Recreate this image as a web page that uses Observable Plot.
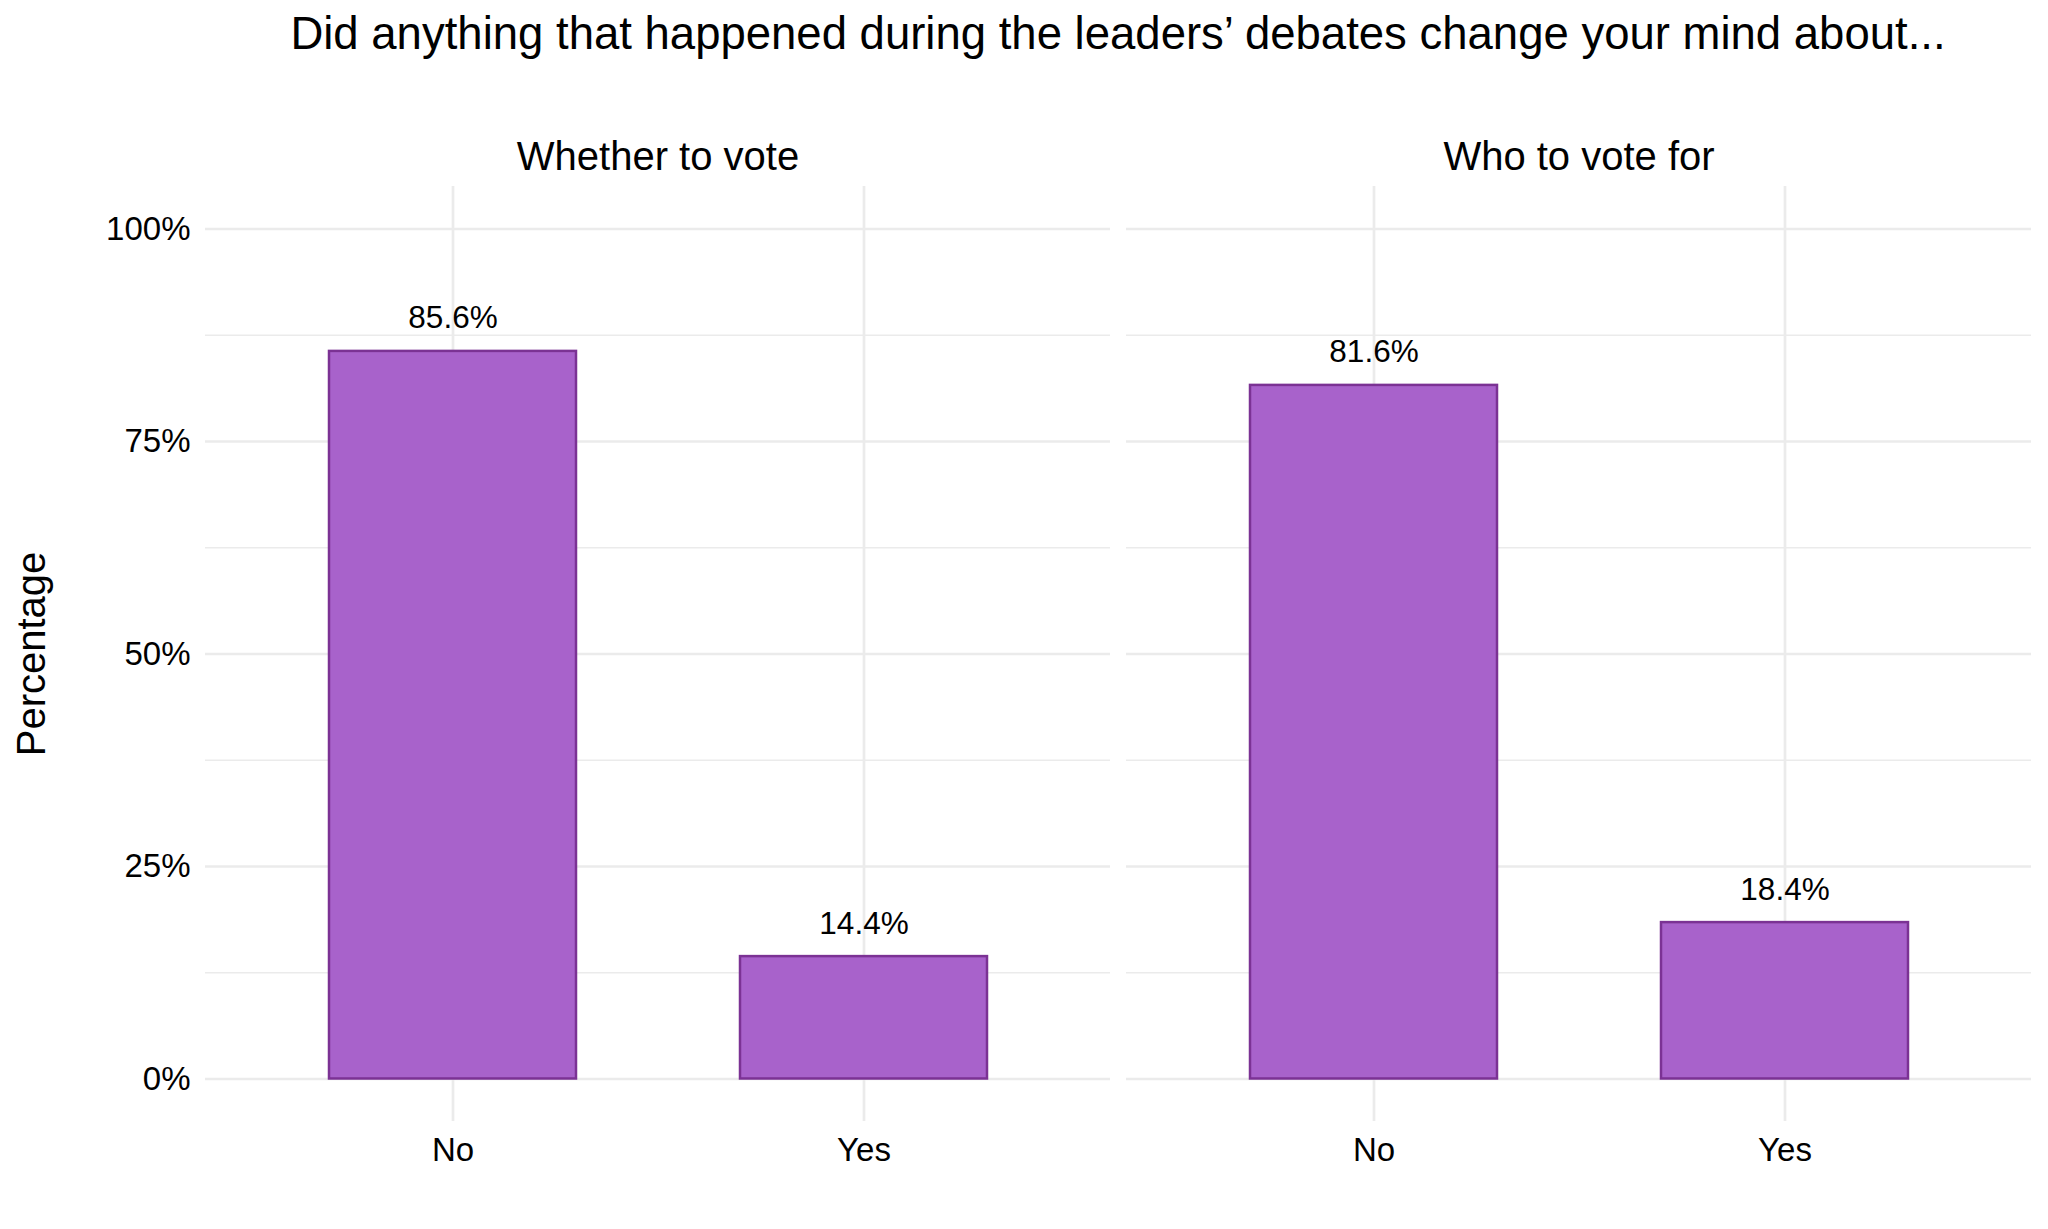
<!DOCTYPE html>
<html><head><meta charset="utf-8">
<script src="https://cdn.jsdelivr.net/npm/d3@7"></script>
<script src="https://cdn.jsdelivr.net/npm/@observablehq/plot@0.6"></script>
<style>
html,body{margin:0;padding:0;background:#fff;}
#title{width:2048px;height:80px;box-sizing:border-box;padding-top:11px;font-family:"Liberation Sans",Arial,Helvetica,sans-serif;font-size:45.5px;line-height:45.5px;color:#000;}
#title span{display:block;margin-left:205px;width:1826px;text-align:center;white-space:nowrap;}
#chart svg{display:block;}
</style></head><body>
<div id="title"><span id="titletext"></span></div>
<div id="chart"></div>
<script>
const titleText = "Did anything that happened during the leaders’ debates change your mind about...";
const panels = ["Whether to vote", "Who to vote for"];
const answers = ["No", "Yes"];
const whetherValues = [85.6, 14.4];
const whoValues = [81.6, 18.4];
const majorTicks = [0, 25, 50, 75, 100];
const minorTicks = [12.5, 37.5, 62.5, 87.5];
const yLabel = "Percentage";

document.getElementById("titletext").textContent = titleText;

const data = [
  ...answers.map((a, i) => ({panel: panels[0], answer: a, value: whetherValues[i]})),
  ...answers.map((a, i) => ({panel: panels[1], answer: a, value: whoValues[i]}))
];

const font = '"Liberation Sans", Arial, Helvetica, sans-serif';

const chart = Plot.plot({
  width: 2048,
  height: 1149,
  marginTop: 106,
  marginBottom: 108,
  marginLeft: 205,
  marginRight: 17,
  style: {fontFamily: font, fontSize: "33px", color: "#000", background: "#fff", overflow: "visible"},
  fx: {domain: panels, paddingInner: 16 / 921, paddingOuter: 0, axis: null, label: null},
  x: {domain: answers, paddingInner: 0.4, paddingOuter: 0.3, axis: null, label: null},
  y: {domain: [-5, 105], axis: null, label: null},
  marks: [
    Plot.ruleY(minorTicks, {stroke: "#ebebeb", strokeWidth: 1.4}),
    Plot.ruleY(majorTicks, {stroke: "#ebebeb", strokeWidth: 2.7}),
    Plot.ruleX(answers, {x: d => d, stroke: "#ebebeb", strokeWidth: 2.7}),
    Plot.barY(data, {fx: "panel", x: "answer", y: "value", fill: "#a862cb", stroke: "#7b3294", strokeWidth: 2.5}),
    Plot.text(data, {fx: "panel", x: "answer", y: "value", text: d => d.value.toFixed(1) + "%", lineAnchor: "bottom", dy: -23, fontSize: 31.5, fill: "#000"}),
    Plot.axisY(majorTicks, {tickSize: 0, tickPadding: 15, tickFormat: d => d + "%", fontSize: 33, label: null, fill: "#000"}),
    Plot.axisX({tickSize: 0, tickPadding: 16, fontSize: 33, label: null, fill: "#000"}),
    Plot.text(panels, {fx: d => d, frameAnchor: "top", text: d => d, lineAnchor: "bottom", dy: -16.7, fontSize: 40, fill: "#000"}),
    Plot.text([yLabel], {fx: [panels[0]], frameAnchor: "left", rotate: -90, dx: -161, textAnchor: "middle", lineAnchor: "bottom", text: d => d, fontSize: 40, fill: "#000"})
  ]
});
document.getElementById("chart").appendChild(chart);
</script>
</body></html>
